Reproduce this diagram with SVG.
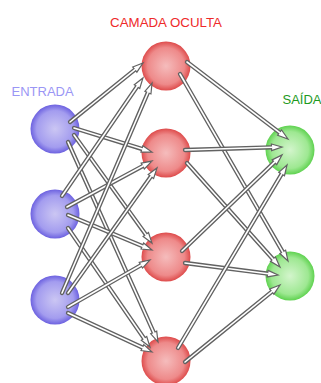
<svg xmlns="http://www.w3.org/2000/svg" width="321" height="383" viewBox="0 0 321 383">
<defs>
<radialGradient id="gIn" cx="0.5" cy="0.5" r="0.5">
<stop offset="0" stop-color="#cbc6f3"/><stop offset="0.75" stop-color="#a39cef"/><stop offset="1" stop-color="#6d62e0"/>
</radialGradient>
<radialGradient id="gHid" cx="0.5" cy="0.5" r="0.5">
<stop offset="0" stop-color="#f5bcbc"/><stop offset="0.75" stop-color="#ee8a8a"/><stop offset="1" stop-color="#de4c4c"/>
</radialGradient>
<radialGradient id="gOut" cx="0.5" cy="0.5" r="0.5">
<stop offset="0" stop-color="#d3f5cc"/><stop offset="0.75" stop-color="#9ee892"/><stop offset="1" stop-color="#5fd250"/>
</radialGradient>
<marker id="ah" markerUnits="userSpaceOnUse" markerWidth="14" markerHeight="10" viewBox="-2 -5 14 10" refX="0" refY="0" orient="auto" overflow="visible">
<path d="M-0.5,-3.3 L10,0 L-0.5,3.3 Z" fill="#fff" stroke="#626262" stroke-width="1.2"/>
</marker>
</defs>
<style>
.o{stroke:#626262;stroke-width:4.3;stroke-linecap:round;fill:none;marker-end:url(#ah)}
.i{stroke:#fff;stroke-width:1.6;stroke-linecap:round;fill:none}
text{font-family:"Liberation Sans",Arial,sans-serif}
</style>
<g id="nodes">
<g id="in1"><circle cx="55" cy="129" r="24.5" fill="url(#gIn)"/></g>
<g id="in2"><circle cx="55" cy="214" r="24.5" fill="url(#gIn)"/></g>
<g id="in3"><circle cx="55" cy="300" r="24.5" fill="url(#gIn)"/></g>
<g id="h1"><circle cx="166" cy="66" r="24.5" fill="url(#gHid)"/></g>
<g id="h2"><circle cx="166" cy="153" r="24.5" fill="url(#gHid)"/></g>
<g id="h3"><circle cx="166" cy="257" r="24.5" fill="url(#gHid)"/></g>
<g id="h4"><circle cx="166" cy="361" r="24.5" fill="url(#gHid)"/></g>
<g id="out1"><circle cx="290" cy="150" r="24.5" fill="url(#gOut)"/></g>
<g id="out2"><circle cx="290" cy="276" r="24.5" fill="url(#gOut)"/></g>
</g>
<g id="connectors">
<g><line class="o" x1="70" y1="122" x2="135.2" y2="69.3"/><line class="i" x1="70" y1="122" x2="135.2" y2="69.3"/></g>
<g><line class="o" x1="74" y1="128" x2="142.4" y2="149.1"/><line class="i" x1="74" y1="128" x2="142.4" y2="149.1"/></g>
<g><line class="o" x1="74" y1="135" x2="146.1" y2="234.9"/><line class="i" x1="74" y1="135" x2="146.1" y2="234.9"/></g>
<g><line class="o" x1="68" y1="142" x2="153.9" y2="332.9"/><line class="i" x1="68" y1="142" x2="153.9" y2="332.9"/></g>
<g><line class="o" x1="62" y1="196" x2="137.3" y2="86.2"/><line class="i" x1="62" y1="196" x2="137.3" y2="86.2"/></g>
<g><line class="o" x1="67" y1="207" x2="143.2" y2="165.8"/><line class="i" x1="67" y1="207" x2="143.2" y2="165.8"/></g>
<g><line class="o" x1="68" y1="215" x2="142.8" y2="246.2"/><line class="i" x1="68" y1="215" x2="142.8" y2="246.2"/></g>
<g><line class="o" x1="68" y1="228" x2="144.3" y2="338.8"/><line class="i" x1="68" y1="228" x2="144.3" y2="338.8"/></g>
<g><line class="o" x1="62" y1="293" x2="148.1" y2="92.2"/><line class="i" x1="62" y1="293" x2="148.1" y2="92.2"/></g>
<g><line class="o" x1="68" y1="293" x2="151.2" y2="176.1"/><line class="i" x1="68" y1="293" x2="151.2" y2="176.1"/></g>
<g><line class="o" x1="68" y1="307" x2="141.3" y2="265"/><line class="i" x1="68" y1="307" x2="141.3" y2="265"/></g>
<g><line class="o" x1="68" y1="313" x2="142.9" y2="347.8"/><line class="i" x1="68" y1="313" x2="142.9" y2="347.8"/></g>
<g><line class="o" x1="187" y1="62" x2="280" y2="132.9"/><line class="i" x1="187" y1="62" x2="280" y2="132.9"/></g>
<g><line class="o" x1="180" y1="74" x2="283" y2="252.3"/><line class="i" x1="180" y1="74" x2="283" y2="252.3"/></g>
<g><line class="o" x1="185" y1="150" x2="272" y2="147.3"/><line class="i" x1="185" y1="150" x2="272" y2="147.3"/></g>
<g><line class="o" x1="187" y1="163" x2="273.3" y2="259.5"/><line class="i" x1="187" y1="163" x2="273.3" y2="259.5"/></g>
<g><line class="o" x1="182" y1="251" x2="274.8" y2="161.9"/><line class="i" x1="182" y1="251" x2="274.8" y2="161.9"/></g>
<g><line class="o" x1="185" y1="263" x2="268.1" y2="273.7"/><line class="i" x1="185" y1="263" x2="268.1" y2="273.7"/></g>
<g><line class="o" x1="178" y1="348" x2="281.9" y2="173.6"/><line class="i" x1="178" y1="348" x2="281.9" y2="173.6"/></g>
<g><line class="o" x1="185" y1="362" x2="272.2" y2="291.3"/><line class="i" x1="185" y1="362" x2="272.2" y2="291.3"/></g>
</g>
<g id="labels">
<text x="166" y="27" font-size="13.3" fill="#ee2a2a" text-anchor="middle">CAMADA OCULTA</text>
<text x="11.5" y="95.5" font-size="13" fill="#9a96f5">ENTRADA</text>
<text x="282.5" y="104" font-size="13" fill="#1e9a1e">SAÍDA</text>
</g>
</svg>
